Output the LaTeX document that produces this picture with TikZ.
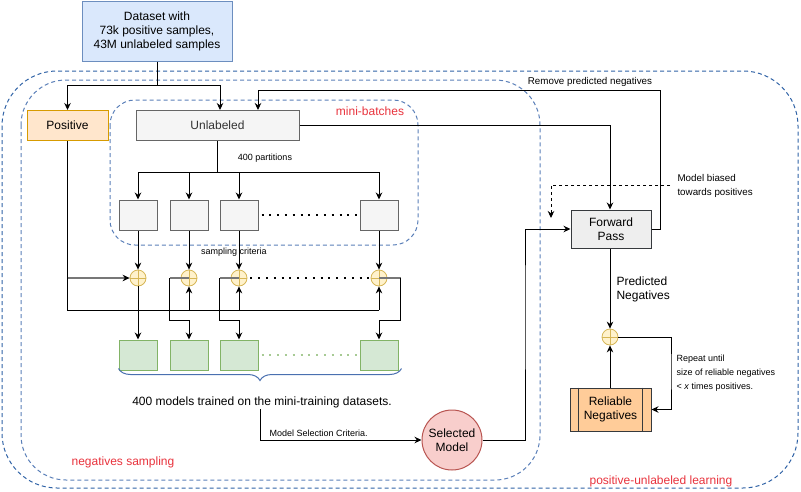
\documentclass[tikz,border=0pt]{standalone}
\usepackage{fontspec}
\setmainfont{Liberation Sans}
\usetikzlibrary{arrows.meta,decorations.pathreplacing}
\definecolor{dsfill}{HTML}{DAE8FC}\definecolor{dsline}{HTML}{6C8EBF}
\definecolor{posfill}{HTML}{FFE6CC}\definecolor{posline}{HTML}{D79B00}
\definecolor{grfill}{HTML}{F5F5F5}\definecolor{grline}{HTML}{666666}
\definecolor{gnfill}{HTML}{D5E8D4}\definecolor{gnline}{HTML}{82B366}
\definecolor{smfill}{HTML}{FFF2CC}\definecolor{smline}{HTML}{D6B656}
\definecolor{slfill}{HTML}{F8CECC}\definecolor{slline}{HTML}{B85450}
\definecolor{rlfill}{HTML}{FFCC99}\definecolor{dkline}{HTML}{36393D}
\definecolor{fwfill}{HTML}{EEEEEE}
\definecolor{redtxt}{HTML}{E8323C}
\definecolor{brblue}{HTML}{4A70B0}
\definecolor{segray}{HTML}{777777}
\definecolor{contdark}{HTML}{2F62A6}
\definecolor{contmid}{HTML}{5A7FB8}
\begin{document}
\begin{tikzpicture}[x=1pt,y=-1pt,line width=1pt,
  every node/.style={font=\fontsize{12}{14}\selectfont,inner sep=0pt},
  box/.style={draw,rectangle,align=center,line width=1pt},
  dsbox/.style={box,fill=dsfill,draw=dsline,minimum width=150,minimum height=60},
  posbox/.style={box,fill=posfill,draw=posline,minimum width=81,minimum height=30},
  grbox/.style={box,fill=grfill,draw=grline,minimum width=38,minimum height=30},
  unlbox/.style={box,fill=grfill,draw=grline,minimum width=163,minimum height=30,text=black!80},
  gnbox/.style={box,fill=gnfill,draw=gnline,minimum width=38,minimum height=30},
  fwbox/.style={box,fill=fwfill,draw=dkline,minimum width=80,minimum height=38},
  rlbox/.style={box,fill=rlfill,draw=dkline,minimum width=81,minimum height=43},
  selnode/.style={circle,draw=slline,fill=slfill,minimum size=60,align=center,line width=1pt},
  sumnode/.style={circle,draw=smline,fill=smfill,minimum size=16,line width=0.8pt,
    path picture={\draw[smline,line width=0.8pt] (path picture bounding box.north) -- (path picture bounding box.south)
      (path picture bounding box.west) -- (path picture bounding box.east);}},
  cont/.style={draw=contmid,dash pattern=on 4pt off 3pt,line width=1pt},
  contout/.style={draw=contdark,dash pattern=on 4pt off 3pt,line width=1pt},
  arr/.style={draw=black,-{Stealth[length=7pt,width=6.5pt]}},
  garr/.style={draw=segray,line width=1.4pt,-{Stealth[length=7pt,width=6.5pt,color=black]}},
  gline/.style={draw=segray,line width=1.4pt},
  dotline/.style={line width=2pt,dash pattern=on 2pt off 5.8pt},
  small/.style={font=\fontsize{9}{14}\selectfont},
  redlab/.style={text=redtxt,font=\fontsize{12}{14}\selectfont}]
\useasboundingbox (0,0) rectangle (801,491);
% containers
\draw[contout,rounded corners=55] (2,71) rectangle (798,488);
\draw[cont,rounded corners=45] (21,80) rectangle (540,480);
\draw[cont,rounded corners=25] (110,100) rectangle (418,245);
% nodes
\node[dsbox] (ds) at (157,31) {Dataset with\\73k positive samples,\\43M unlabeled samples};
\node[posbox] (pos) at (67.5,125.5) {Positive};
\node[unlbox] (unl) at (217.5,125.5) {Unlabeled};
\node[grbox] (p1) at (138,215) {};
\node[grbox] (p2) at (189,215) {};
\node[grbox] (p3) at (239,215) {};
\node[grbox] (p4) at (379,215) {};
\node[sumnode] (s1) at (138,278) {};
\node[sumnode] (s2) at (189,278) {};
\node[sumnode] (s3) at (239,278) {};
\node[sumnode] (s4) at (379,278) {};
\node[gnbox] (g1) at (138,355) {};
\node[gnbox] (g2) at (189,355) {};
\node[gnbox] (g3) at (239,355) {};
\node[gnbox] (g4) at (379,355) {};
\node[fwbox] (fwd) at (611,229) {Forward\\Pass};
\node[sumnode] (s5) at (610,337) {};
\node[rlbox] (rel) at (610.5,409.5) {Reliable\\Negatives};
\draw[dkline] ([xshift=9]rel.north west) -- ([xshift=9]rel.south west)
  ([xshift=-9]rel.north east) -- ([xshift=-9]rel.south east);
\node[selnode] (sel) at (452,440) {Selected\\Model};
% labels
\node[redlab] (lmb) at (370,111) {mini-batches};
\node[redlab] (lns) at (123,462) {negatives sampling};
\node[redlab] (lpu) at (661,481) {positive-unlabeled learning};
\node[small] (lpart) at (265,158) {400 partitions};
\node[small] (lsamp) at (234,252) {sampling criteria};
\node[font=\fontsize{12}{14}\selectfont] (models) at (262,402) {400 models trained on the mini-training datasets.};
\node[small,anchor=west] (lmsc) at (269,433) {Model Selection Criteria.};
\node[font=\fontsize{9.8}{14}\selectfont] (lrem) at (590,82) {Remove predicted negatives};
\node[anchor=west,align=left,font=\fontsize{9.8}{14.5}\selectfont] (lbias) at (677,186) {Model biased\\towards positives};
\node[anchor=west,align=left] (lpred) at (616,289) {Predicted\\Negatives};
\node[small,anchor=west,align=left] (lrep) at (676,373) {Repeat until\\size of reliable negatives\\< \textit{x} times positives.};
% coordinates
\coordinate (dsj) at (157,85);
\coordinate (pb) at (67.5,310);
\coordinate (r1) at (0,320);
\coordinate (cx) at (525,300);
\coordinate (rt) at (660,90);
\coordinate (mbs) at (670,185);
\coordinate (mbe) at (551,218);
\coordinate (rp) at (671,370);
% dataset split
\draw (ds.south) -- (dsj);
\draw[arr] (dsj) -| (pos.north);
\draw[arr] (dsj) -| ([xshift=2.5]unl.north);
% partitions
\foreach \i in {1,2,3,4} {\draw[arr] (unl.south) -- ++(0,31) -| (p\i.north);}
\foreach \i in {1,2,3,4} {\draw[arr] (p\i.south) -- (s\i.north);}
\draw[dotline] ([xshift=3]p3.east) -- (p4.west);
% positive feed
\draw (pos.south) -- (pb) -- (pb -| s4.south);
\draw[garr] (pos.south |- s1.west) -- (s1.west);
\foreach \i in {2,3,4} {\draw[arr] (pb -| s\i.south) -- (s\i.south);}
% sum outputs
\draw[arr] (s1.south) -- (g1.north);
\draw[gline] (s2.center) -- (g2.west |- s2);
\draw[arr] (g2.west |- s2) -- (g2.west |- r1) -| (g2.north);
\draw[gline] (s3.center) -- (g3.west |- s3);
\draw[arr] (g3.west |- s3) -- (g3.west |- r1) -| (g3.north);
\draw[gline] (s4.center) -- ([xshift=2]g4.east |- s4);
\draw[arr] ([xshift=2]g4.east |- s4) -- ([xshift=2]g4.east |- r1) -| (g4.north);
\draw[dotline] ([xshift=3]s3.east) -- (s4.west);
\draw[dotline,draw=gnline!70] ([xshift=3]g3.east) -- (g4.west);
% brace
\draw[brblue,line width=1pt,decorate,decoration={brace,mirror,amplitude=12pt}] ([yshift=2]g1.south west) -- ([xshift=3,yshift=2]g4.south east);
% model selection
\draw[arr] ([xshift=-2,yshift=-1]models.south) |- (sel.west);
\draw[arr] (sel.east) -| (cx) |- (fwd.west);
% unlabeled to forward
\draw[arr] (unl.east) -| ([xshift=-1]fwd.north);
% remove predicted negatives
\draw[arr] (fwd.east) -| (rt) -| ([xshift=40.5]unl.north);
% biased
\draw[arr,dashed] (mbs) -| (mbe);
% PU loop
\draw[arr] ([xshift=-1]fwd.south) -- (s5.north);
\draw[arr] ([xshift=-0.5]rel.north) -- (s5.south);
\draw[arr] (s5.east) -| (rp) |- (rel.east);
\end{tikzpicture}
\end{document}
